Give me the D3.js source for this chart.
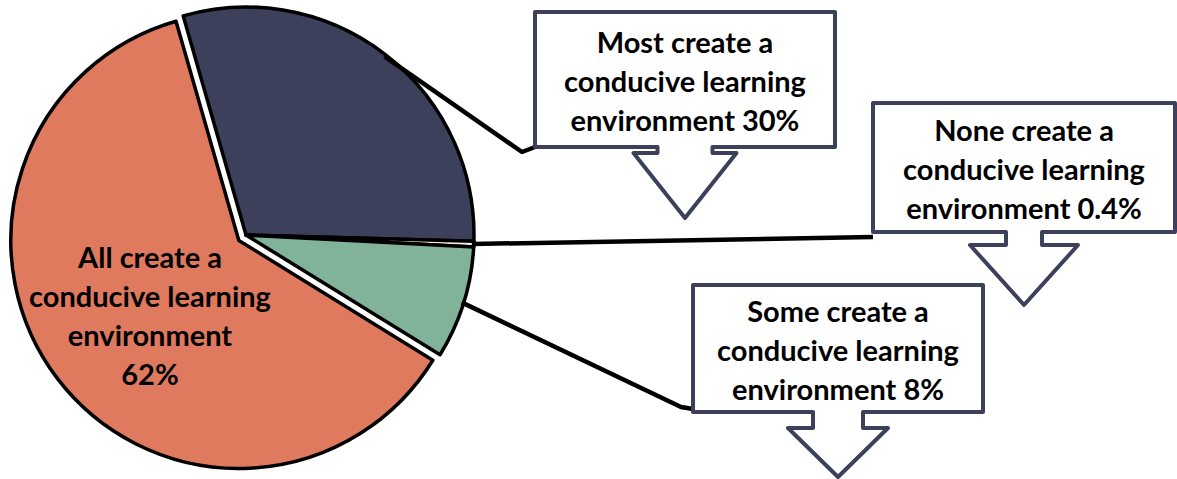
<!DOCTYPE html>
<html>
<head>
<meta charset="utf-8">
<script src="https://cdn.jsdelivr.net/npm/d3@7"></script>
<style>
  body { margin: 0; background: #fff; }
  svg { display: block; }
  text { font-family: Lato, "Open Sans", sans-serif; font-weight: 700; fill: #000; }
</style>
</head>
<body>
<svg width="1177" height="479"></svg>
<script>
// data
var categories = ["Most", "None", "Some", "All"];
var values = [30, 0.4, 8, 62];
var labelLines = [
    ["Most create a", "conducive learning", "environment 30%"],
    ["None create a", "conducive learning", "environment 0.4%"],
    ["Some create a", "conducive learning", "environment 8%"],
    ["All create a", "conducive learning", "environment", "62%"]
];
var colors = ["#3D405B", "#F4F1DE", "#81B29A", "#E07A5F"];

var width = 1177, height = 479;
var cx = 246, cy = 235, radius = 228;
var explode = 9;
var startDeg = -16;
var fontSize = 29;

// callout boxes (layout only)
var callouts = {
    "Most": {x: 535, y: 12, w: 300, h: 135, neckW: 55, neckH: 6, headW: 103, tipH: 65,
             elbow: [[522, 152], [535, 147]]},
    "None": {x: 873, y: 103, w: 302, h: 129, neckW: 36, neckH: 13, headW: 108, tipH: 60,
             elbow: [[873, 237]]},
    "Some": {x: 693, y: 285, w: 290, h: 127, neckW: 50, neckH: 16, headW: 100, tipH: 49,
             elbow: [[681, 407], [693, 409]]}
};

var svg = d3.select("svg");

var data = categories.map(function (c, i) {
    return {name: c, value: values[i], color: colors[i], lines: labelLines[i]};
});

var start = startDeg * Math.PI / 180;
var pie = d3.pie()
    .sort(null)
    .value(function (d) { return d.value; })
    .startAngle(start)
    .endAngle(start + 2 * Math.PI);

var arcs = pie(data);

var arc = d3.arc().innerRadius(0).outerRadius(radius);

function offset(d) {
    if (d.data.name != "All") return [0, 0];
    var a = (d.startAngle + d.endAngle) / 2;
    return [Math.sin(a) * explode, -Math.cos(a) * explode];
}

var g = svg.append("g").attr("transform", "translate(" + cx + "," + cy + ")");

// leader lines first so slices sit on top
var line = d3.line();
arcs.forEach(function (d) {
    var c = callouts[d.data.name];
    if (!c) return;
    var a = (d.startAngle + d.endAngle) / 2;
    var p0 = [cx + Math.sin(a) * (radius - 2), cy - Math.cos(a) * (radius - 2)];
    var pts = [p0].concat(c.elbow);
    svg.append("path")
        .attr("d", line(pts))
        .attr("fill", "none")
        .attr("stroke", "#000")
        .attr("stroke-width", 4.5)
        .attr("stroke-linejoin", "round");
});

g.selectAll(".slice")
    .data(arcs)
    .enter().append("path")
    .attr("class", "slice")
    .attr("transform", function (d) { return "translate(" + offset(d) + ")"; })
    .attr("d", arc)
    .attr("fill", function (d) { return d.data.color; })
    .attr("stroke", "#000")
    .attr("stroke-width", 3.5)
    .attr("stroke-linejoin", "round");

// the "All" label sits inside its slice
var allSlice = arcs[3];
var allLabel = svg.append("text")
    .attr("text-anchor", "middle")
    .style("font-size", fontSize + "px");
allSlice.data.lines.forEach(function (t, i) {
    allLabel.append("tspan")
        .attr("x", 150)
        .attr("y", 258 + i * 39)
        .attr("dy", "0.35em")
        .text(t);
});

// callouts
function calloutPath(c) {
    var x0 = c.x, y0 = c.y, x1 = c.x + c.w, y1 = c.y + c.h;
    var mx = c.x + c.w / 2;
    var ny = y1 + c.neckH;
    var p = d3.path();
    p.moveTo(x0, y0);
    p.lineTo(x1, y0);
    p.lineTo(x1, y1);
    p.lineTo(mx + c.neckW / 2, y1);
    p.lineTo(mx + c.neckW / 2, ny);
    p.lineTo(mx + c.headW / 2, ny);
    p.lineTo(mx, ny + c.tipH);
    p.lineTo(mx - c.headW / 2, ny);
    p.lineTo(mx - c.neckW / 2, ny);
    p.lineTo(mx - c.neckW / 2, y1);
    p.lineTo(x0, y1);
    p.closePath();
    return p.toString();
}

arcs.forEach(function (d) {
    var c = callouts[d.data.name];
    if (!c) return;
    svg.append("path")
        .attr("d", calloutPath(c))
        .attr("fill", "#fff")
        .attr("stroke", "#3D405B")
        .attr("stroke-width", 4)
        .attr("stroke-linejoin", "round");

    var t = svg.append("text")
        .attr("text-anchor", "middle")
        .style("font-size", fontSize + "px");
    var my = c.y + c.h / 2 + 2;
    d.data.lines.forEach(function (s, i) {
        t.append("tspan")
            .attr("x", c.x + c.w / 2)
            .attr("y", my + (i - 1) * 39)
            .attr("dy", "0.35em")
            .text(s);
    });
});
</script>
</body>
</html>
